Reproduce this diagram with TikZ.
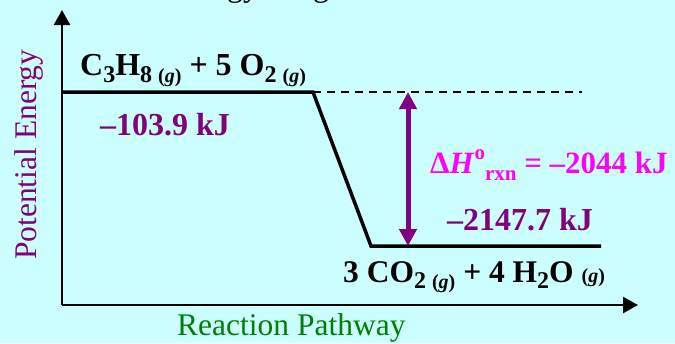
\documentclass[tikz,border=0pt]{standalone}
\usepackage{fontspec}
\setmainfont{Liberation Serif}
\usetikzlibrary{arrows.meta}
\definecolor{bgcol}{RGB}{204,255,255}
\definecolor{lblpurple}{RGB}{128,0,128}
\definecolor{lblmagenta}{RGB}{255,0,255}
\definecolor{lblgreen}{RGB}{0,128,0}
\newcommand{\chsub}[1]{\raisebox{-0.22em}{\fontsize{24}{24}\selectfont #1}}
\newcommand{\phase}{{\fontsize{20}{20}\selectfont(\textit{g})}}
\tikzset{
  lbl/.style={anchor=base west, inner sep=0pt},
  big/.style={font=\fontsize{32}{36}\selectfont\bfseries},
  axis/.style={line width=2.5pt, -{Triangle[length=15pt,width=16pt]}},
}
\begin{document}
\begin{tikzpicture}[x=1pt,y=-1pt]
\fill[bgcol] (0,0) rectangle (675,343);
\useasboundingbox (0,0) rectangle (675,343);
\begin{scope}
\clip (0,0) rectangle (675,343);
\node[lbl, font=\fontsize{32}{36}\selectfont] (title) at (167,-4) {Energy Diagram};
\end{scope}
% axes
\coordinate (o) at (62,305);
\coordinate (ytip) at (62,10);
\coordinate (xtip) at (638,305);
\draw[axis] (o) -- (ytip);
\draw[axis] (o) -- (xtip);
% levels
\coordinate (r0) at (62,92);
\coordinate (r1) at (313,92);
\coordinate (p0) at (371,246);
\coordinate (p1) at (601,246);
\coordinate (d1) at (582,92);
\draw[line width=3.5pt, line join=miter] (r0) -- (r1) -- (p0) -- (p1);
\draw[line width=1.5pt, dash pattern=on 8pt off 6pt] (r1) -- (d1);
% enthalpy arrow
\coordinate (a0) at (408,92);
\coordinate (a1) at (408,246);
\draw[lblpurple, line width=5pt, {Triangle[length=17pt,width=17pt]}-{Triangle[length=17pt,width=17pt]}] (a1) -- (a0);
% labels
\node[lbl, big] (react) at (80,75) {C\chsub{3}H\chsub{8 \phase} + 5 O\chsub{2 \phase}};
\node[lbl, big, text=lblpurple] (e1) at (100,135) {–103.9 kJ};
\node[lbl, text=lblmagenta, font=\fontsize{31}{36}\selectfont\bfseries] (dh) at (430,173) {Δ\textit{H}\raisebox{0.45em}{\fontsize{21}{21}\selectfont o}\raisebox{-0.25em}{\fontsize{21}{21}\selectfont rxn} = –2044 kJ};
\node[lbl, big, text=lblpurple] (e2) at (447,230) {–2147.7 kJ};
\node[lbl, font=\fontsize{31.5}{36}\selectfont\bfseries] (prod) at (343,282) {3 CO\chsub{2 \phase} + 4 H\chsub{2}O \phase};
\node[lbl, text=lblgreen, font=\fontsize{31.5}{36}\selectfont] (xl) at (177,335) {Reaction Pathway};
\node[lbl, rotate=90, text=lblpurple, font=\fontsize{31.5}{36}\selectfont] (yl) at (36,260) {Potential Energy};
\end{tikzpicture}
\end{document}
